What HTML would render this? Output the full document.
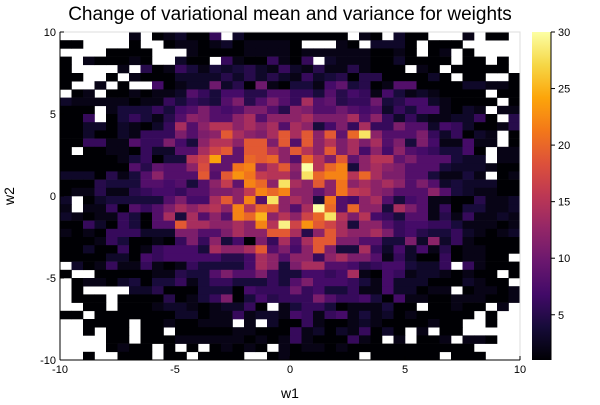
<!DOCTYPE html>
<html><head><meta charset="utf-8"><style>
body{margin:0;background:#fff;}
svg text{font-family:"Liberation Sans",sans-serif;}
</style></head><body>
<svg id="chart" width="600" height="400" viewBox="0 0 600 400" xmlns="http://www.w3.org/2000/svg">
<text x="290" y="20" text-anchor="middle" font-size="19" fill="#000">Change of variational mean and variance for weights</text>
<g id="cells"></g>
<g id="axes"></g>
<text x="290" y="398" text-anchor="middle" font-size="14">w1</text>
<text transform="translate(14,196) rotate(-90)" text-anchor="middle" font-size="14">w2</text>
<defs><linearGradient id="cbgrad" x1="0" y1="1" x2="0" y2="0"></linearGradient></defs>
<rect x="532" y="32" width="19" height="328" fill="url(#cbgrad)"/>
<g id="cbaxis"></g>
</svg>
<script>
const xRange = [-10, 10];
const yRange = [-10, 10];
const xTicks = [-10, -5, 0, 5, 10];
const yTicks = [-10, -5, 0, 5, 10];
const cbTicks = [5, 10, 15, 20, 25, 30];
const cRange = [1, 30];
// counts: rows top (w2=10) to bottom, left half then right half; '.' = empty, base-36 digits
const countsLeft = [
"......2.123116.31111","11....1..12212312222","....1111...211112222","1.211121..311.621162",
"1....2.5126424345326","11..1.21113333535353","1..2.1..71233a351a21",".12.1121223864775588",
"322222122646548b58b8","111.24446478b878bb85","116.1464258cb88ce8cc","1133132136e8cffcece8",
"1131132666b8bcjecbej","116622866b74cffcjjbj","1.1122163388ehj9jjfc","11111246144fho99kjkc",
"11111185988ci99lmcfj","33315248c888j8jnlgff","1115444887848cg9mkcs","1225225677688bbcgmkm",
"3.134 44448 b77ej cm8sce","2.226 1868b ecefc mfkjc","32122 6418e 4e8c8 mkpcf","11631 64188 jeecc ecmft",
"21216 66333 bb88b eccjj","11126 41121 6b6c4 71b6e","11311 61267 774ec cej8b","11113 31767 77775 57ec8",
".3126 22621 26444 47ec4","1..11 11122 5448b 88b64",".1221 34144 62466 44464",".1... .3351 11444 17666",
".111. 11115 1246b 14756","..11. 11123 32123 361.2","11.11 11111 33122 62332","..111 1.112 11222 .2.31",
"..1.1 1.11. 11111 22111","....1 1.111 22222 21212","....1 211.1 .1.12 121.2","..1.. 111.1 1.111 1..12"];
const countsRight = [
"11111.21.311...2.11.","1...21.3331.111.....","12222221121.12.1....","16.32221131111.11.1.",
"3252252111.21.11111.","26345155111131.11..1","44279451288111133221","66485762742321111.11",
"6e89566a4577321111.1","cb88a878364772132.22","cebbbe8c6363223361.5","ec47b6e66b8837631125",
"ejcj9ksc888b636132.1","8jcfbebe8b4b722722.1","jfcjbe7c7c8764471.22","8kfbj9cff9b888433.22",
"cufkm4cecb8884333211","bskmmfkebb8842242.12","ecjclcecec8b83433311","cc9clgfcb888c8432211",
"ec4l8 7ce84 78221 15223","8euk8 kcc4e b8261 44223","chksf bf764 88252 62232","hnjhe 4cc86 77664 22212",
"e5cje ccEb6 75446 32123","8ejjb b8844 b3c36 21111","7cjb4 4e637 37251 22111","cc6ce bb826 31161 2211.",
"bee88 75677 4336. 62111","47767 e2176 23321 211.1","8b777 64273 33111 3211.","a6744 62273 3122. 12212",
"66b86 67417 22112 22112","46641 22241 1.112 11.2.","76267 24231 21111 1.1..","16211 23211 11211 ..1..",
"62313 26131 .2.11 .....","62111 621.2 .112. 221..","12212 11111 11111 1....","11111 1.111 111.1 11..."];

const PX0 = 60, PX1 = 520, PY0 = 32, PY1 = 360;
const NS = "http://www.w3.org/2000/svg";
function sx(v){ return PX0 + (v - xRange[0]) / (xRange[1] - xRange[0]) * (PX1 - PX0); }
function sy(v){ return PY1 - (v - yRange[0]) / (yRange[1] - yRange[0]) * (PY1 - PY0); }
const stops = ["#000004","#160b39","#420a68","#6a176e","#932667","#bc3754","#dd513a","#f37819","#fca50a","#f6d746","#fcffa4"];
function hex(h){ return [1,3,5].map(i=>parseInt(h.substr(i,2),16)); }
function cmap(t){
  t = Math.max(0, Math.min(1, t));
  const f = t * 10, i = Math.min(9, Math.floor(f)), r = f - i;
  const a = hex(stops[i]), b = hex(stops[i+1]);
  return "rgb(" + a.map((c,k)=>Math.round(c + (b[k]-c)*r)).join(",") + ")";
}
function parseRow(s){
  s = s.replace(/\s/g,"");
  const out = [];
  for (let i = 0; i < 20; i++) { const ch = s[i] || "."; out.push(ch === "." ? 0 : parseInt(ch.toLowerCase(), 36)); }
  return out;
}
const cells = document.getElementById("cells");
const nRows = countsLeft.length;
const nCols = 40;
const cw = (xRange[1]-xRange[0]) / nCols, ch = (yRange[1]-yRange[0]) / nRows;
for (let r = 0; r < nRows; r++) {
  const vals = parseRow(countsLeft[r]).concat(parseRow(countsRight[r]));
  for (let c = 0; c < nCols; c++) {
    const v = vals[c];
    if (!v) continue;
    const x0 = xRange[0] + c*cw, y1 = yRange[1] - r*ch;
    const el = document.createElementNS(NS, "rect");
    
    
    el.setAttribute("x", sx(x0));
    el.setAttribute("y", sy(y1));
    el.setAttribute("width", sx(x0+cw) - sx(x0) + 0.3);
    el.setAttribute("height", sy(y1-ch) - sy(y1) + 0.3);
    el.setAttribute("fill", cmap((v - cRange[0]) / (cRange[1] - cRange[0])));
    cells.appendChild(el);
  }
}
const axes = document.getElementById("axes");
function add(parent, tag, attrs, text){
  const e = document.createElementNS(NS, tag);
  for (const k in attrs) e.setAttribute(k, attrs[k]);
  if (text !== undefined) e.textContent = text;
  parent.appendChild(e); return e;
}
const frame = add(axes, "rect", {x:PX0, y:PY0, width:PX1-PX0, height:PY1-PY0, fill:"none", stroke:"#ddd", "stroke-width":1});


add(axes, "line", {x1:PX0, y1:PY1, x2:PX1, y2:PY1, stroke:"#000"});
add(axes, "line", {x1:PX0, y1:PY0, x2:PX0, y2:PY1, stroke:"#000"});
xTicks.forEach(t => {
  add(axes, "line", {x1:sx(t), y1:PY1, x2:sx(t), y2:PY1-4, stroke:"#000"});
  const tl = add(axes, "text", {x:sx(t), y:PY1+13, "text-anchor":"middle", "font-size":11}, String(t));
  
  
});
yTicks.forEach(t => {
  add(axes, "line", {x1:PX0, y1:sy(t), x2:PX0+4, y2:sy(t), stroke:"#000"});
  const tl = add(axes, "text", {x:PX0-4, y:sy(t)+4, "text-anchor":"end", "font-size":11}, String(t));
  
  
});
const grad = document.getElementById("cbgrad");
for (let i = 0; i <= 20; i++) add(grad, "stop", {offset: i/20, "stop-color": cmap(i/20)});
const cb = document.getElementById("cbaxis");
function cy(v){ return PY1 - (v - cRange[0]) / (cRange[1] - cRange[0]) * (PY1 - PY0); }
add(cb, "line", {x1:551, y1:PY0, x2:551, y2:PY1, stroke:"#000"});
cbTicks.forEach(t => {
  add(cb, "line", {x1:551, y1:cy(t), x2:555, y2:cy(t), stroke:"#000"});
  const tl = add(cb, "text", {x:558, y:cy(t)+4, "font-size":11}, String(t));
  
  
});
</script>
</body></html>
